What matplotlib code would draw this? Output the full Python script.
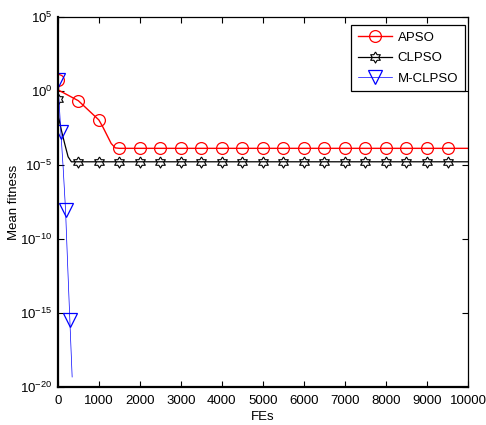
import numpy as np
import matplotlib.pyplot as plt
from matplotlib.ticker import FixedLocator, FuncFormatter

plt.rcParams['font.family'] = ['Liberation Sans', 'DejaVu Sans']
plt.rcParams['mathtext.fontset'] = 'custom'
plt.rcParams['mathtext.rm'] = 'Liberation Sans'

# log10(mean fitness) against FEs
apso_fes = [0, 20, 500, 1000, 1100, 1200, 1300, 1400, 1500, 2000, 2500, 3000, 3500,
            4000, 4500, 5000, 5500, 6000, 6500, 7000, 7500, 8000, 8500, 9000, 9500, 10000]
apso_log = [0.75, 0.05, -0.66, -1.96, -2.45, -3.0, -3.55, -3.85, -3.88, -3.88, -3.88,
            -3.88, -3.88, -3.88, -3.88, -3.88, -3.88, -3.88, -3.88, -3.88, -3.88,
            -3.88, -3.88, -3.88, -3.88, -3.88]
apso_marks = [0] + list(range(2, 4)) + list(range(8, 25))

clpso_fes = [0, 20, 90, 170, 250, 330, 500, 1000, 1500, 2000, 2500, 3000, 3500, 4000,
             4500, 5000, 5500, 6000, 6500, 7000, 7500, 8000, 8500, 9000, 9500, 10000]
clpso_log = [-0.56, -1.8, -2.7, -3.6, -4.45, -4.79, -4.79, -4.79, -4.79, -4.79, -4.79,
             -4.79, -4.79, -4.79, -4.79, -4.79, -4.79, -4.79, -4.79, -4.79, -4.79,
             -4.79, -4.79, -4.79, -4.79, -4.79]
clpso_marks = [0] + list(range(6, 25))

mclpso_fes = [0, 73, 130, 188, 240, 293, 349]
mclpso_log = [0.74, -2.75, -5.2, -8.06, -11.8, -15.5, -19.34]
mclpso_marks = [0, 1, 3, 5]

# six-pointed star outline (points up and down) for the CLPSO markers
ang = np.deg2rad(90 + 30 * np.arange(13))
rad = np.where(np.arange(13) % 2 == 0, 1.0, 1 / np.sqrt(3))
hexagram = [(r * np.cos(a), r * np.sin(a)) for r, a in zip(rad, ang)]

fig = plt.figure(figsize=(4.86, 4.25), dpi=100)
ax = fig.add_axes([0.119, 0.090, 0.844, 0.870])

ax.plot(apso_fes, 10.0 ** np.array(apso_log), color='#ff0000', lw=1.0,
        marker='o', ms=8.5, mfc='none', mec='#ff0000', mew=0.9,
        markevery=apso_marks, label='APSO')
ax.plot(clpso_fes, 10.0 ** np.array(clpso_log), color='black', lw=0.9,
        marker=hexagram, ms=8, mfc='none', mec='black', mew=0.8,
        markevery=clpso_marks, label='CLPSO')
ax.plot(mclpso_fes, 10.0 ** np.array(mclpso_log), color='#0000ff', lw=0.5,
        marker='v', ms=9.5, mfc='none', mec='#0000ff', mew=0.9,
        markevery=mclpso_marks, label='M-CLPSO')

ax.set_yscale('log')
ax.set_xlim(0, 10000)
ax.set_ylim(1e-20, 1e5)
ax.set_xticks(range(0, 10001, 1000))
ax.yaxis.set_major_locator(FixedLocator([10.0 ** e for e in range(-20, 6, 5)]))
ax.yaxis.set_minor_locator(FixedLocator([]))
ax.yaxis.set_major_formatter(FuncFormatter(
    lambda v, p: r'$\mathdefault{10^{%d}}$' % round(np.log10(v))))
ax.tick_params(direction='in', length=4, width=0.8, top=True, right=True,
               labelsize=9.5, pad=4)
ax.tick_params(axis='x', pad=6)
for s in ax.spines.values():
    s.set_linewidth(0.9)
ax.spines['left'].set_linewidth(1.6)
ax.spines['bottom'].set_linewidth(1.6)

ax.set_xlabel('FEs', fontsize=9.5, labelpad=3)
ax.set_ylabel('Mean fitness', fontsize=9.5, labelpad=0)

leg = ax.legend(loc='upper right', bbox_to_anchor=(0.992, 0.978), fontsize=9.5,
                handlelength=2.6, fancybox=False, edgecolor='black', framealpha=1,
                borderaxespad=0.0, handletextpad=0.4, labelspacing=0.62,
                borderpad=0.5)
leg.get_frame().set_linewidth(0.9)

fig.savefig('out.png', dpi=100)
